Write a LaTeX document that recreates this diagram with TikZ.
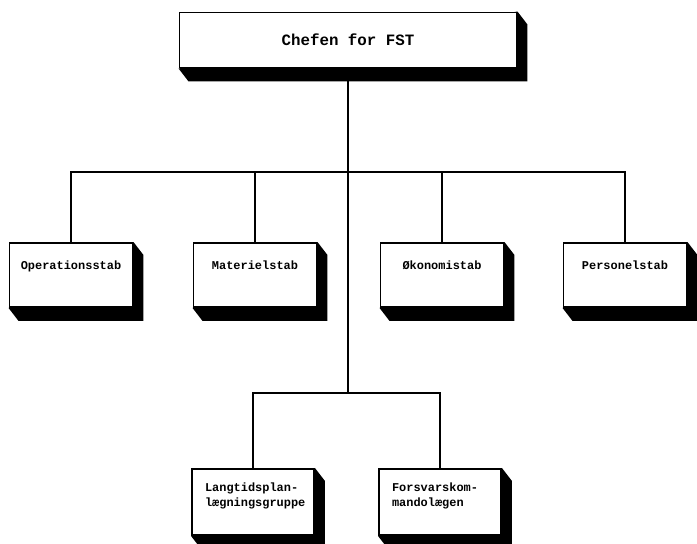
\documentclass[tikz,border=0pt]{standalone}
\usepackage{fontspec}
\setmonofont{Liberation Mono}
\usetikzlibrary{positioning, backgrounds}
\tikzset{
  every picture/.style={line width=1.1pt},
  chief/.style={draw, fill=white, font=\ttfamily\bfseries\fontsize{9}{11}\selectfont, minimum width=67.4mm, minimum height=11mm},
  staff/.style={draw, fill=white, font=\ttfamily\bfseries\fontsize{6.8}{9}\selectfont, minimum width=24.6mm, text height=5.4mm, text depth=7.4mm, inner ysep=0pt},
  group/.style={draw, fill=white, font=\ttfamily\bfseries\fontsize{6.8}{9}\selectfont, align=left, text width=19.2mm, inner xsep=2.6mm, text height=4.4mm, text depth=8.8mm, inner ysep=0pt},
  shade/.style={fill=black},
}

\begin{document}
\begin{tikzpicture}[x=0.2mm, y=-0.2mm]
  \useasboundingbox (0,0) rectangle (697,544);
  \node[chief] (chef) at (348,40) {Chefen for FST};
  \node[staff] (ops) at (71,275) {Operationsstab};
  \node[staff] (mat) at (255,275) {Materielstab};
  \node[staff] (oko) at (442,275) {Økonomistab};
  \node[staff] (per) at (625,275) {Personelstab};
  \node[group] (lang) at (253,502) {Langtidsplan-\\lægningsgruppe};
  \node[group] (fkl) at (440,502) {Forsvarskom-\\mandolægen};
  \coordinate (top bar) at (348,172);
  \coordinate (low bar) at (348,393);
  \begin{scope}[on background layer]
    \foreach \n in {chef, ops, mat, oko, per, lang, fkl}
      \fill[shade] (\n.north east) -- ++(10,13) |- ([shift={(10,13)}]\n.south west) -- (\n.south west) -- cycle;
  \end{scope}
  \draw (chef) -- (low bar);
  \foreach \n in {ops, mat, oko, per} \draw (top bar) -| (\n);
  \foreach \n in {lang, fkl} \draw (low bar) -| (\n);
\end{tikzpicture}
\end{document}
